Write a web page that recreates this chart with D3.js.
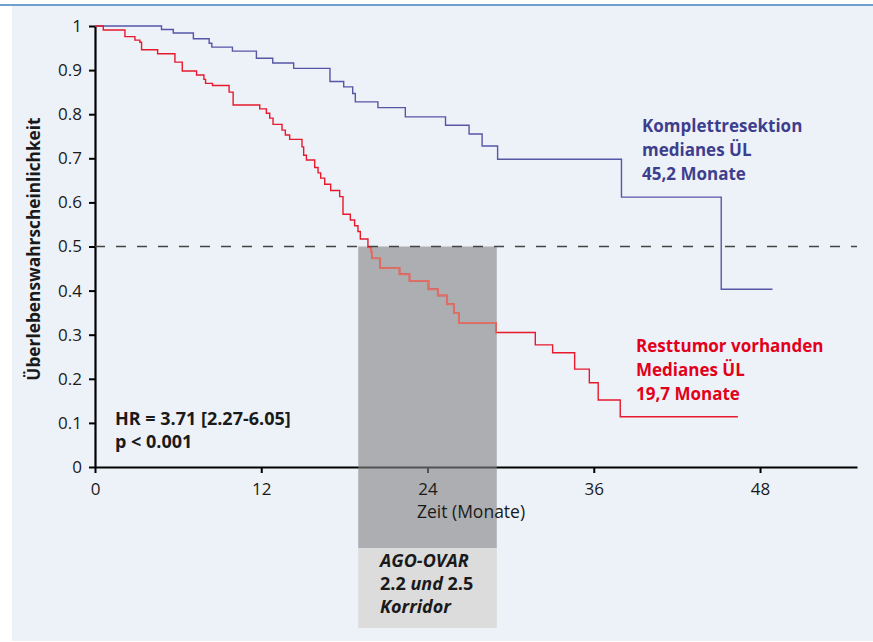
<!DOCTYPE html>
<html>
<head>
<meta charset="utf-8">
<script src="https://cdn.jsdelivr.net/npm/d3@7"></script>
<style>
  html, body { margin: 0; padding: 0; background: #fff; }
  svg { display: block; font-family: "Open Sans", "Noto Sans", sans-serif; }
</style>
</head>
<body>
<div id="chart"></div>
<script>
// Kaplan-Meier steps (months, survival)
const blueTimes = [0, 4.8, 5.65, 7.1, 8.24, 8.43, 9.92, 11.65, 12.83, 14.34, 16.96, 17.95, 18.6, 18.79, 20.42, 22.4, 25.3, 27.0, 27.94, 29.06, 38.0, 45.2, 48.9];
const blueSurv  = [1.0, 0.992, 0.984, 0.971, 0.961, 0.952, 0.943, 0.927, 0.916, 0.904, 0.874, 0.862, 0.847, 0.828, 0.815, 0.794, 0.775, 0.755, 0.728, 0.698, 0.612, 0.403, 0.403];

const redTimes = [0, 0.6, 2.16, 2.88, 3.24, 3.36, 4.52, 5.77, 6.3, 7.33, 7.86, 7.98, 8.48, 9.68, 9.97, 11.89, 12.37, 12.61, 12.85, 13.5, 13.74, 14.05, 14.94, 15.06, 15.26, 15.86, 16.1, 16.29, 16.58, 17.01, 17.66, 17.9, 18.43, 18.74, 18.98, 19.15, 19.7, 19.94, 20.0, 20.59, 21.98, 22.7, 24.07, 24.74, 25.42, 25.9, 26.26, 28.95, 31.78, 33.03, 34.62, 35.68, 36.32, 37.91, 46.4];
const redSurv  = [1.0, 0.991, 0.976, 0.968, 0.963, 0.946, 0.937, 0.918, 0.898, 0.889, 0.879, 0.870, 0.865, 0.850, 0.821, 0.812, 0.802, 0.791, 0.777, 0.764, 0.753, 0.743, 0.726, 0.707, 0.696, 0.679, 0.667, 0.655, 0.641, 0.627, 0.613, 0.573, 0.560, 0.547, 0.534, 0.517, 0.498, 0.488, 0.473, 0.451, 0.437, 0.422, 0.403, 0.389, 0.369, 0.349, 0.327, 0.305, 0.277, 0.259, 0.222, 0.191, 0.152, 0.114, 0.114];

const xTicks = [0, 12, 24, 36, 48];
const yTicks = [0, 0.1, 0.2, 0.3, 0.4, 0.5, 0.6, 0.7, 0.8, 0.9, 1];
const medianLevel = 0.5;
const corridor = [19, 29];

const blueLabel = ["Komplettresektion", "medianes ÜL", "45,2 Monate"];
const redLabel = ["Resttumor vorhanden", "Medianes ÜL", "19,7 Monate"];
const statsLabel = ["HR = 3.71 [2.27-6.05]", "p < 0.001"];

const W = 873, H = 642;
const svg = d3.select("#chart").append("svg").attr("width", W).attr("height", H);

// panel + top rule
svg.append("rect").attr("x", 12).attr("y", 6).attr("width", W - 12).attr("height", 635).attr("fill", "#edf2f9");
svg.append("line").attr("x1", 0).attr("x2", W).attr("y1", 5).attr("y2", 5)
  .attr("stroke", "#3f7fbf").attr("stroke-width", 1.6);

const x = d3.scaleLinear().domain([0, 55]).range([95, 857]);
const y = d3.scaleLinear().domain([0, 1]).range([467, 26]);

function styleAxis(g) {
  g.select(".domain").attr("stroke", "#000").attr("stroke-width", 2.2);
  g.selectAll(".tick line").attr("stroke", "#000").attr("stroke-width", 2);
  g.selectAll(".tick text").attr("font-size", 17).attr("fill", "#1a1a1a")
    .attr("font-family", "'Open Sans', sans-serif");
}

// axes (x labels are drawn later, above the corridor)
const xAxis = svg.append("g").attr("transform", `translate(0,${y(0)})`)
  .call(d3.axisBottom(x).tickValues(xTicks).tickSize(6).tickSizeOuter(0).tickFormat(""));
const yAxis = svg.append("g").attr("transform", `translate(${x(0)},0)`)
  .call(d3.axisLeft(y).tickValues(yTicks).tickSize(6).tickSizeOuter(0).tickPadding(7)
    .tickFormat(d => d === 0 || d === 1 ? String(d) : d.toFixed(1)));
styleAxis(xAxis);
styleAxis(yAxis);

// corridor box (semi-transparent over the axis)
svg.append("rect")
  .attr("x", x(corridor[0])).attr("y", y(medianLevel))
  .attr("width", x(corridor[1]) - x(corridor[0])).attr("height", 548 - y(medianLevel))
  .attr("fill", "#858585").attr("fill-opacity", 0.62);
svg.append("rect")
  .attr("x", x(corridor[0])).attr("y", 548)
  .attr("width", x(corridor[1]) - x(corridor[0])).attr("height", 80)
  .attr("fill", "#dcdcdc");

const xLabels = svg.append("g").attr("transform", `translate(0,${y(0)})`)
  .call(d3.axisBottom(x).tickValues(xTicks).tickSize(6).tickPadding(10));
xLabels.select(".domain").remove();
xLabels.selectAll(".tick line").remove();
styleAxis(xLabels);

// median line
svg.append("line")
  .attr("x1", x(0)).attr("x2", x(55)).attr("y1", y(medianLevel)).attr("y2", y(medianLevel))
  .attr("stroke", "#444").attr("stroke-width", 1.6).attr("stroke-dasharray", "10,11");

const step = d3.line().curve(d3.curveStepAfter).x(d => x(d[0])).y(d => y(d[1]));
const bluePts = blueTimes.map((t, i) => [t, blueSurv[i]]);
const redPts = redTimes.map((t, i) => [t, redSurv[i]]);

svg.append("path").attr("d", step(bluePts)).attr("fill", "none")
  .attr("stroke", "#5656a6").attr("stroke-width", 1.4);
svg.append("path").attr("d", step(redPts)).attr("fill", "none")
  .attr("stroke", "#e8192c").attr("stroke-width", 1.4);

// the red curve looks washed out inside the grey corridor
svg.append("clipPath").attr("id", "corrClip").append("rect")
  .attr("x", x(corridor[0])).attr("y", y(medianLevel) + 1)
  .attr("width", x(corridor[1]) - x(corridor[0])).attr("height", 548 - y(medianLevel));
svg.append("path").attr("d", step(redPts)).attr("fill", "none")
  .attr("clip-path", "url(#corrClip)")
  .attr("stroke", "#de7064").attr("stroke-width", 1.8);

// axis titles
svg.append("text").attr("x", 471).attr("y", 518).attr("text-anchor", "middle")
  .attr("font-size", 17.5).attr("fill", "#1a1a1a").text("Zeit (Monate)");
svg.append("text").attr("transform", "translate(40,249) rotate(-90)").attr("text-anchor", "middle")
  .attr("font-size", 17.3).attr("font-weight", "bold").attr("fill", "#1a1a1a")
  .text("Überlebenswahrscheinlichkeit");

// stats
svg.append("g").selectAll("text").data(statsLabel).join("text")
  .attr("x", 115).attr("y", (d, i) => 425 + i * 23)
  .attr("font-size", 18).attr("font-weight", "bold").attr("fill", "#1a1a1a").text(d => d);

// curve labels
svg.append("g").selectAll("text").data(blueLabel).join("text")
  .attr("x", 642).attr("y", (d, i) => 132 + i * 24)
  .attr("font-size", 17).attr("font-weight", "bold").attr("fill", "#3e3e8e").text(d => d);
svg.append("g").selectAll("text").data(redLabel).join("text")
  .attr("x", 636).attr("y", (d, i) => 352 + i * 24)
  .attr("font-size", 17).attr("font-weight", "bold").attr("fill", "#e2001a").text(d => d);

// corridor caption
const cap = svg.append("text").attr("x", 380).attr("font-size", 18).attr("font-weight", "bold").attr("fill", "#1a1a1a");
cap.append("tspan").attr("x", 380).attr("y", 567).attr("font-style", "italic").text("AGO-OVAR");
cap.append("tspan").attr("x", 380).attr("y", 590).text("2.2 ");
cap.append("tspan").attr("font-style", "italic").text("und");
cap.append("tspan").text(" 2.5");
cap.append("tspan").attr("x", 380).attr("y", 613).attr("font-style", "italic").text("Korridor");
</script>
</body>
</html>
